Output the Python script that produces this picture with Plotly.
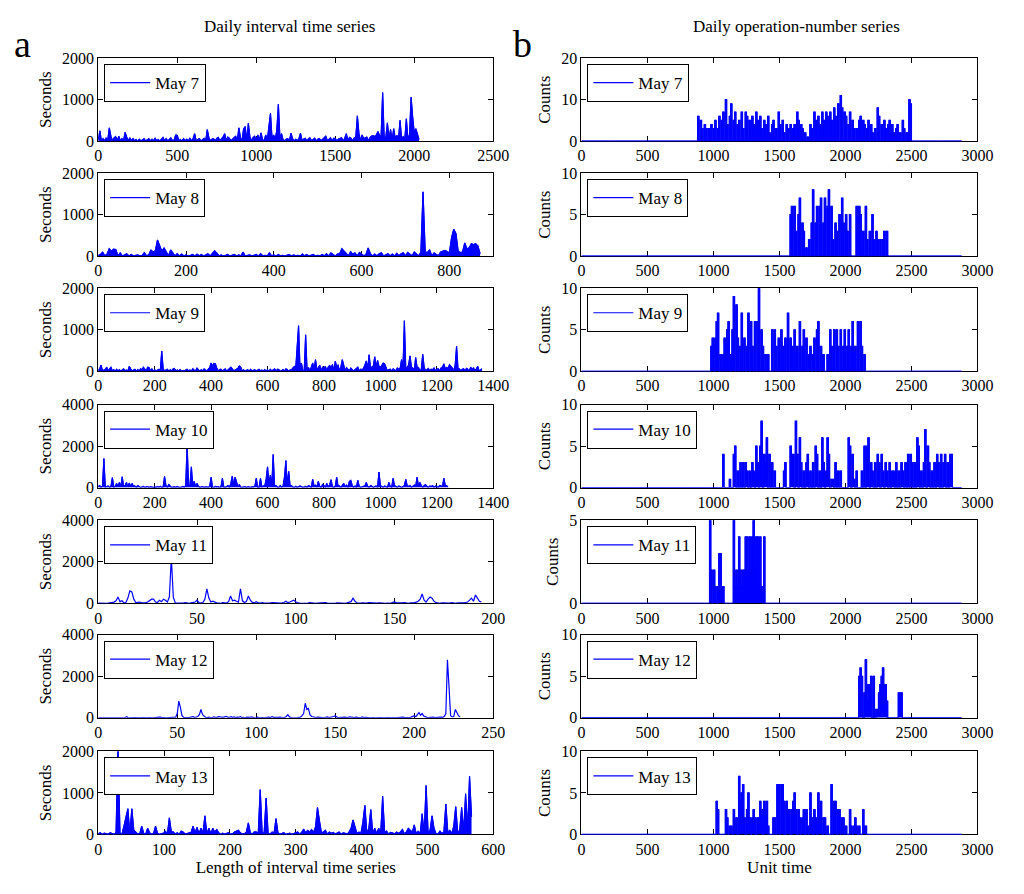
import plotly.graph_objects as go

days = ["May 7", "May 8", "May 9", "May 10", "May 11", "May 12", "May 13"]

# ---------------- Daily interval time series (seconds), sampled every `interval_step` ----------------
iv_may7 = [40,250,10,60,5,80,20,320,120,10,80,110,10,120,5,60,10,210,100,10,
           80,5,60,10,40,0,50,10,30,60,5,40,60,10,50,5,70,10,40,5,
           50,90,10,60,5,40,80,10,30,150,140,10,40,5,60,10,50,5,70,10,
           60,180,10,40,60,5,30,70,10,280,90,10,50,60,5,70,90,10,60,100,
           180,10,100,70,10,60,90,120,10,320,90,10,300,350,10,430,100,10,90,120,
           10,150,20,200,40,10,150,30,400,670,60,150,40,260,890,60,180,30,10,50,
           60,10,190,60,5,50,10,60,190,10,50,70,5,60,80,10,40,70,5,50,
           60,10,50,90,120,10,40,80,5,70,60,10,50,60,80,10,70,180,10,90,
           70,10,80,100,610,180,10,150,60,80,100,10,90,120,130,110,150,230,140,100,
           1170,60,100,440,60,280,40,300,60,140,40,500,60,110,40,540,60,150,1060,580,
           200,300,150,40]
iv_may8 = [20,40,100,10,50,180,120,170,160,10,80,5,30,60,5,40,10,20,30,5,
           20,90,10,30,150,100,130,390,250,120,200,90,10,150,80,10,60,5,50,10,
           30,5,20,40,5,50,10,40,5,40,60,5,60,130,80,10,30,5,20,40,
           5,20,40,5,30,10,100,5,20,30,5,20,40,5,60,10,20,5,80,10,
           30,5,40,10,20,5,30,40,5,30,10,20,5,50,10,40,5,20,40,5,
           20,5,40,10,60,5,80,40,5,50,60,180,120,60,10,110,50,80,10,90,
           50,10,40,200,60,5,50,10,60,80,5,40,60,10,50,5,70,10,60,80,
           10,90,50,10,100,60,10,90,1550,100,90,150,10,80,50,10,100,120,140,110,
           80,450,650,550,120,90,100,320,180,200,300,280,300,250,60]
iv_may9 = [20,60,150,10,30,50,100,5,60,100,10,40,5,50,10,40,5,30,60,10,
           30,5,120,60,10,30,50,5,40,10,60,40,100,50,10,100,90,10,60,5,
           40,5,30,50,10,490,60,10,30,50,5,40,10,60,70,5,30,10,40,5,
           20,5,30,50,10,30,5,60,30,10,80,50,5,40,10,60,40,5,50,90,
           200,120,190,180,80,10,40,50,5,40,60,5,40,50,100,60,10,30,50,70,
           130,100,10,40,5,20,40,5,50,10,30,40,5,30,50,10,30,5,40,10,
           40,5,50,10,40,60,5,50,40,10,20,40,5,60,40,10,30,40,80,120,
           80,550,1100,80,200,20,10,880,40,90,10,100,200,40,280,50,80,150,10,100,
           80,120,10,100,140,90,160,10,240,120,150,10,100,280,150,10,90,40,10,80,
           50,10,40,80,100,10,50,40,70,150,250,60,400,80,100,130,350,100,260,120,
           90,150,200,180,90,10,40,50,10,60,40,10,80,50,70,280,60,1220,40,90,
           150,370,100,80,10,330,100,90,10,50,410,100,10,40,70,10,50,40,80,10,
           50,60,10,80,100,180,60,90,70,160,120,80,10,150,600,60,60,10,50,60,
           10,70,50,10,100,40,80,10,60,120,10,30,60]
iv_may10 = [60,100,10,80,1400,20,50,80,10,60,480,20,60,200,50,250,30,520,40,100,
            250,40,220,60,200,60,80,10,100,60,10,30,60,10,30,50,5,40,30,5,
            40,5,50,20,60,5,30,530,100,10,150,60,5,20,40,5,50,20,5,30,
            60,20,100,2100,80,120,1000,60,300,40,200,60,10,30,50,5,40,30,10,60,
            500,20,10,60,30,50,10,30,450,20,10,50,100,20,200,550,100,500,300,40,
            150,20,10,30,50,5,40,30,10,40,30,60,450,20,10,450,30,80,60,400,
            1000,200,600,60,1600,60,100,20,10,100,20,80,500,1300,100,780,60,100,20,10,
            60,10,30,80,50,10,30,60,10,100,60,10,400,60,120,20,300,60,10,150,
            100,10,200,40,120,380,40,10,60,500,60,80,10,100,200,30,120,10,300,350,
            100,10,80,20,350,60,10,40,50,80,250,60,10,100,60,10,50,80,10,750,
            100,60,10,80,60,10,250,60,10,450,100,60,10,80,50,10,40,100,400,80,
            60,100,10,80,120,60,500,60,250,100,10,100,150,60,10,80,50,100,10,80,
            60,10,100,80,60,450,100,80,40]
iv_may11 = [10,0,20,5,0,10,30,20,60,120,
            300,80,120,20,40,250,600,550,200,30,
            50,60,20,10,30,60,120,200,200,60,
            40,150,80,200,150,60,300,2200,300,20,
            10,0,20,10,30,10,0,20,40,60,
            150,30,10,40,200,700,250,60,100,40,
            20,10,0,30,20,10,80,350,120,150,
            100,60,700,120,40,80,350,150,40,30,
            80,20,10,30,10,0,20,10,30,20,
            10,30,10,20,40,100,30,60,120,150,
            80,20,10,0,20,10,0,30,10,20,
            0,10,20,0,10,30,10,0,20,10,
            0,20,10,30,10,0,20,40,80,250,
            100,20,0,10,20,0,10,30,20,10,
            0,10,20,30,10,0,20,10,0,40,
            80,20,10,0,20,30,10,0,20,10,
            30,60,100,200,450,150,60,200,300,250,
            100,30,10,0,20,10,0,20,10,30,
            10,0,20,10,30,20,40,60,150,250,
            100,400,250,100,60]
iv_may12 = [0,0,10,0,5,0,10,0,0,10,
            0,5,0,10,30,0,5,10,50,0,
            0,10,0,0,5,0,10,0,0,5,
            0,10,0,5,0,10,0,30,10,30,
            20,0,10,0,5,10,0,20,10,30,
            200,800,500,100,20,10,0,10,20,30,
            50,10,20,60,150,400,150,60,20,10,
            30,10,0,40,20,10,50,30,10,20,
            40,60,30,10,50,20,40,10,30,20,
            50,10,20,0,30,10,20,40,10,0,
            10,30,0,20,10,0,20,10,30,10,
            50,20,10,0,20,30,10,0,20,60,
            150,40,10,0,20,10,0,20,30,100,
            200,700,400,450,150,60,40,20,10,30,
            20,10,30,0,20,40,10,20,30,60,
            100,30,10,20,0,10,30,20,10,40,
            20,0,10,30,10,20,0,40,10,20,
            30,10,0,20,10,0,10,20,0,10,
            0,10,20,0,10,0,20,10,0,10,
            20,0,10,30,10,0,20,10,30,60,
            100,50,150,250,120,200,80,30,20,10,
            20,10,30,10,20,0,10,30,20,60,
            200,2800,1500,100,40,60,400,250,100,40]
iv_may13 = [20,40,5,30,20,5,40,30,5,40,
            2100,30,10,200,450,620,20,620,100,60,
            10,20,200,30,5,150,40,5,20,200,
            30,5,10,30,80,10,400,60,60,10,
            40,5,80,60,10,20,30,50,200,40,
            170,20,150,30,450,20,150,20,150,60,
            120,40,5,30,10,20,40,5,20,60,
            80,100,40,10,20,60,280,40,10,60,
            60,20,1080,30,40,880,30,10,60,30,
            380,40,10,20,40,5,20,30,5,20,
            30,60,10,50,130,40,100,60,120,50,
            180,650,330,40,60,100,10,60,30,50,
            10,30,60,5,40,30,5,60,150,350,
            180,20,60,20,300,700,20,150,600,20,
            150,20,150,20,920,60,80,10,50,40,
            10,60,30,60,120,10,60,150,100,60,
            230,20,80,20,500,20,1180,40,100,450,
            150,20,10,80,20,60,730,40,100,20,
            200,670,50,100,650,60,980,100,1400,430]

interval_series = [iv_may7, iv_may8, iv_may9, iv_may10, iv_may11, iv_may12, iv_may13]
interval_step = [10, 5, 5, 5, 1, 1, 3]
interval_dense = [True, True, True, True, False, False, True]
interval_xmax = [2500, 900, 1400, 1400, 200, 250, 600]
interval_xdtick = [500, 200, 200, 200, 50, 50, 100]
interval_ymax = [2000, 2000, 2000, 4000, 4000, 4000, 2000]
interval_ydtick = [1000, 1000, 1000, 2000, 2000, 2000, 1000]

# ---------------- Daily operation-number series (counts), active part every 10 units ----------------
cnt_may7 = [6,0,5,3,0,4,3,0,3,2,4,0,3,5,0,3,6,0,5,7,
            0,10,4,0,6,9,0,5,7,0,4,5,0,7,3,0,7,6,0,5,
            0,6,4,0,7,5,0,6,3,0,5,4,0,6,2,0,4,5,0,3,
            0,7,4,0,5,2,0,4,3,0,4,0,3,4,0,7,5,0,4,3,
            0,2,0,1,0,4,3,0,7,5,0,6,4,0,7,5,0,7,6,0,
            7,5,0,8,6,0,9,0,11,8,0,7,6,0,4,7,0,5,3,0,
            3,0,5,6,0,5,4,0,3,5,0,4,2,0,3,0,8,6,0,4,
            0,5,3,0,4,5,0,4,2,0,3,4,0,2,0,5,3,0,2,2,
            10,9,0]
cnt_may8 = [5,6,0,6,3,0,5,7,0,4,3,0,1,0,2,0,4,8,0,4,
            6,0,6,7,0,4,7,0,6,8,0,6,2,0,4,3,0,5,0,7,
            4,0,5,3,0,5,0,0,0,0,6,0,6,5,0,3,0,6,2,0,
            3,0,5,2,0,3,2,0,2,0,2,3,0,3]
cnt_may9 = [3,4,0,4,6,7,0,2,0,2,4,0,5,6,0,2,5,9,0,8,
            4,0,3,7,0,4,0,3,7,0,6,3,0,6,0,6,10,0,5,3,
            0,2,0,2,0,0,5,0,5,3,0,4,0,5,3,0,4,0,7,0,
            4,0,3,5,0,3,0,6,0,3,5,0,4,0,2,3,0,2,4,0,
            5,6,0,3,2,2,0,0,2,0,5,3,0,5,0,5,3,0,5,0,
            3,5,0,3,5,0,3,6,0,3,0,6,0,6,3,0,2]
cnt_may10 = [4,0,0,0,0,1,0,0,4,5,0,2,0,3,0,3,0,3,2,0,
             2,0,3,2,0,5,3,0,5,8,0,4,3,6,0,4,0,3,0,2,
             0,0,0,0,0,0,2,3,0,0,0,5,4,4,0,8,4,0,6,3,
             0,2,0,3,4,0,2,0,3,0,5,4,0,2,0,6,3,0,2,6,
             4,0,1,1,0,3,0,2,0,2,0,0,0,0,0,6,5,0,4,1,
             0,2,0,0,0,2,0,5,0,5,6,0,3,2,0,3,0,4,3,0,
             4,2,0,3,2,0,3,0,2,2,0,3,0,2,0,3,2,0,3,0,
             4,0,4,3,0,3,0,6,5,0,2,0,3,7,0,5,3,0,2,0,
             3,0,4,3,0,4,0,3,4,0,3,0,4,4]
cnt_may11 = [5,2,0,2,1,0,1,3,3,1,1,
             0,0,0,0,0,0,0,
             5,1,2,1,4,2,1,2,2,4,4,2,4,2,4,5,2,4,4,1,4,1,0,4,0]
cnt_may12 = [5,6,5,0,3,7,2,4,4,5,0,5,0,1,1,3,4,5,6,4,4,2,
             0,0,0,0,0,0,0,0,
             3,3,3,0]
cnt_may13 = [4,3,0,0,0,0,0,3,2,0,1,1,0,3,1,2,0,7,4,5,
             6,2,0,3,5,2,0,2,3,2,0,2,2,4,3,0,4,3,4,1,
             0,0,0,2,2,0,6,6,0,6,6,4,0,4,2,3,0,3,4,5,
             3,0,3,2,0,2,3,0,3,1,0,5,2,0,3,2,0,5,2,4,
             0,2,2,0,1,0,0,6,0,4,4,0,3,3,0,2,2,0,1,0,
             0,3,1,0,1,2,1,0,1,0,0,3,1,1,0]

counts_series = [cnt_may7, cnt_may8, cnt_may9, cnt_may10, cnt_may11, cnt_may12, cnt_may13]
counts_start = [880, 1580, 980, 1070, 970, 2100, 1020]
counts_step = 10
counts_end = 2880
counts_xmax = 3000
counts_xdtick = 500
counts_ymax = [20, 10, 10, 10, 5, 10, 10]
counts_ydtick = [10, 5, 5, 5, 5, 5, 5]

# ---------------- layout geometry (page pixels; the page body keeps its 8px margin) ----------------
PAGE_W, PAGE_H, BODY = 1024, 894, 8
W, H = PAGE_W - 2 * BODY, PAGE_H - 2 * BODY
FONT = "Liberation Serif"
BLUE = "#0000ff"
row_tops = [51, 168.3, 285.7, 404.3, 522.3, 639, 758]
row_h = 84.6
col_px = [(96, 499), (589, 993)]


def fx(px):
    return (px - BODY) / W


def fy(py):
    return 1 - (py - BODY) / H


fig = go.Figure()
layout = dict(
    width=W, height=H, margin=dict(l=0, r=0, t=0, b=0),
    paper_bgcolor="white", plot_bgcolor="white",
    font=dict(family=FONT, size=16, color="black"),
    showlegend=True,
)


def axis_style():
    return dict(showline=True, linecolor="black", linewidth=1, mirror="ticks",
                ticks="inside", ticklen=5, tickwidth=1, tickcolor="black",
                showgrid=False, zeroline=False, layer="below traces",
                tickfont=dict(family=FONT, size=16, color="black"))


def add_series(xr, yr, lk, name, yvals, step, shape, dense):
    # dense series: the under-curve area is painted so the packed spikes read as in the source
    if dense:
        fig.add_trace(go.Scatter(y=yvals, x0=0, dx=step, mode="lines",
                                 line=dict(color=BLUE, width=1, shape=shape),
                                 fill="tozeroy", fillcolor=BLUE, showlegend=False,
                                 hoverinfo="skip", xaxis=xr, yaxis=yr))
    fig.add_trace(go.Scatter(y=yvals, x0=0, dx=step, mode="lines",
                             line=dict(color=BLUE, width=1.2, shape=shape), name=name,
                             xaxis=xr, yaxis=yr, legend=lk))


for col in range(2):
    for r in range(7):
        i = col * 7 + r + 1
        xk = "xaxis" if i == 1 else f"xaxis{i}"
        yk = "yaxis" if i == 1 else f"yaxis{i}"
        xr = "x" if i == 1 else f"x{i}"
        yr = "y" if i == 1 else f"y{i}"
        lk = "legend" if i == 1 else f"legend{i}"
        x0p, x1p = col_px[col]
        top = row_tops[r]
        bot = top + row_h
        xd = [fx(x0p), fx(x1p)]
        yd = [fy(bot), fy(top)]

        xa = axis_style()
        ya = axis_style()
        if col == 0:
            add_series(xr, yr, lk, days[r], interval_series[r], interval_step[r],
                       "linear", interval_dense[r])
            xa.update(range=[0, interval_xmax[r]], tick0=0, dtick=interval_xdtick[r])
            ya.update(range=[0, interval_ymax[r]], tick0=0, dtick=interval_ydtick[r],
                      title=dict(text="Seconds", font=dict(family=FONT, size=17), standoff=6))
            if r == 6:
                xa.update(title=dict(text="Length of interval time series",
                                     font=dict(family=FONT, size=17), standoff=2))
        else:
            vals = counts_series[r]
            st = counts_start[r]
            last = st + counts_step * (len(vals) - 1)
            full = [0] * (st // counts_step) + vals + [0] * ((counts_end - last) // counts_step)
            add_series(xr, yr, lk, days[r], full, counts_step, "hv", True)
            xa.update(range=[0, counts_xmax], tick0=0, dtick=counts_xdtick)
            ya.update(range=[0, counts_ymax[r]], tick0=0, dtick=counts_ydtick[r],
                      title=dict(text="Counts", font=dict(family=FONT, size=17), standoff=6))
            if r == 6:
                xa.update(title=dict(text="Unit time", font=dict(family=FONT, size=17), standoff=2))
        xa.update(domain=xd, anchor=yr)
        ya.update(domain=yd, anchor=xr)
        layout[xk] = xa
        layout[yk] = ya
        layout[lk] = dict(x=fx(x0p + 6), y=fy(top + 6), xanchor="left", yanchor="top",
                          bgcolor="white", bordercolor="black", borderwidth=1, itemwidth=40,
                          font=dict(family=FONT, size=17, color="black"))

layout["annotations"] = [
    dict(text="Daily interval time series", x=fx(291), y=fy(19), xref="paper", yref="paper",
         showarrow=False, xanchor="center", yanchor="middle", font=dict(family=FONT, size=17)),
    dict(text="Daily operation-number series", x=fx(808), y=fy(19), xref="paper", yref="paper",
         showarrow=False, xanchor="center", yanchor="middle", font=dict(family=FONT, size=17)),
    dict(text="a", x=fx(8), y=fy(37), xref="paper", yref="paper",
         showarrow=False, xanchor="left", yanchor="middle", font=dict(family=FONT, size=38)),
    dict(text="b", x=fx(517), y=fy(37), xref="paper", yref="paper",
         showarrow=False, xanchor="left", yanchor="middle", font=dict(family=FONT, size=38)),
]

fig.update_layout(**layout)
fig.write_html("out.html", config={"displayModeBar": False})
